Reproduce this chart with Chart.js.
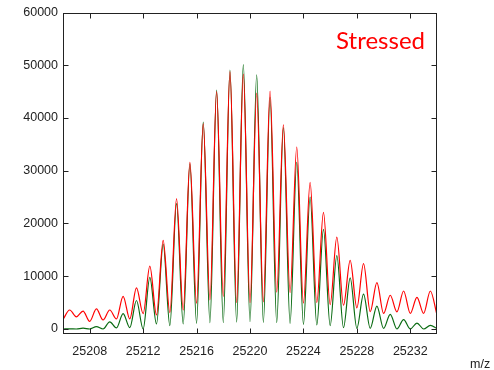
<!DOCTYPE html>
<html>
<head>
<meta charset="utf-8">
<script src="https://cdn.jsdelivr.net/npm/chart.js@4.4.1/dist/chart.umd.min.js"></script>
<style>
  html, body { margin: 0; padding: 0; background: #ffffff; }
  #wrap { width: 494px; height: 370px; position: relative; }
</style>
</head>
<body>
<div id="wrap"><canvas id="c" width="494" height="370"></canvas></div>
<script>
// m/z positions of valleys (integers) and peaks (half-integers)
const valleyMz = [25206, 25207, 25208, 25209, 25210, 25211, 25212, 25213, 25214, 25215,
                  25216, 25217, 25218, 25219, 25220, 25221, 25222, 25223, 25224, 25225,
                  25226, 25227, 25228, 25229, 25230, 25231, 25232, 25233, 25234];
const peakMz = [25206.5, 25207.5, 25208.5, 25209.5, 25210.5, 25211.5, 25212.5, 25213.5, 25214.5, 25215.5,
                25216.5, 25217.5, 25218.5, 25219.5, 25220.5, 25221.5, 25222.5, 25223.5, 25224.5, 25225.5,
                25226.5, 25227.5, 25228.5, 25229.5, 25230.5, 25231.5, 25232.5, 25233.5];

// Red trace (Stressed)
const redPeaks = [3600, 3400, 3800, 3600, 6200, 7800, 11900, 16800, 24700, 31600,
                  38900, 45000, 48800, 48300, 44700, 45100, 38700, 34500, 27800, 22100,
                  17400, 13000, 12400, 8800, 6400, 7200, 6000, 7200];
const redValleys = [1800, 2300, 1450, 1700, 1900, 1900, 2900, 2650, 3100, 3600,
                    4900, 5500, 6200, 5000, 5000, 5150, 7000, 6900, 4900, 5000,
                    4600, 4500, 4000, 3300, 2950, 3250, 2950, 2950, 2650];

// Green trace
const greenPeaks = [30, 150, 450, 1350, 2900, 5400, 9800, 16100, 23800, 31300,
                    39200, 45300, 49100, 50100, 48200, 43900, 38200, 31600, 25000, 18900,
                    13900, 9700, 6600, 4350, 2770, 1760, 1130, 690];
const greenValleys = [0, 0, 0, 0, 200, 250, 0, 950, 620, 950,
                      1080, 1200, 1200, 1320, 1380, 1260, 1200, 1070, 880, 760,
                      630, 250, 130, 130, 100, 0, 0, 0, 100];

const xTicks = [25208, 25212, 25216, 25220, 25224, 25228, 25232];
const yTicks = [0, 10000, 20000, 30000, 40000, 50000, 60000];

function buildSeries(valleys, peaks) {
  const pts = [];
  for (let i = 0; i < valleyMz.length; i++) {
    pts.push({ x: valleyMz[i], y: valleys[i] });
    if (i < peakMz.length) pts.push({ x: peakMz[i], y: peaks[i] });
  }
  return pts;
}

const frame = {
  id: 'frame',
  afterDraw(chart) {
    const { ctx, chartArea: a, scales } = chart;
    ctx.save();
    ctx.strokeStyle = '#222';
    ctx.lineWidth = 1;
    const L = Math.round(a.left) + 0.5, R = Math.round(a.right) - 0.5;
    const T = Math.round(a.top) + 0.5, B = Math.round(a.bottom) - 0.5;
    ctx.strokeRect(L, T, R - L, B - T);
    ctx.beginPath();
    const tl = 5;
    xTicks.forEach(v => {
      const px = Math.round(scales.x.getPixelForValue(v)) + 0.5;
      ctx.moveTo(px, B); ctx.lineTo(px, B - tl);
      ctx.moveTo(px, T); ctx.lineTo(px, T + tl);
    });
    yTicks.forEach(v => {
      const py = Math.round(scales.y.getPixelForValue(v)) + 0.5;
      ctx.moveTo(L, py); ctx.lineTo(L + tl, py);
      ctx.moveTo(R, py); ctx.lineTo(R - tl, py);
    });
    ctx.stroke();
    // Labels
    ctx.fillStyle = '#ff0000';
    ctx.font = '24px Lato, "Open Sans", sans-serif';
    ctx.textAlign = 'right';
    ctx.textBaseline = 'alphabetic';
    ctx.fillText('Stressed', 425, 49);
    ctx.fillStyle = '#222';
    ctx.font = '12.5px "Liberation Sans", Arial, sans-serif';
    ctx.textAlign = 'left';
    ctx.fillText('m/z', 470, 368);
    ctx.restore();
  }
};

new Chart(document.getElementById('c'), {
  type: 'line',
  data: {
    datasets: [
      {
        label: 'Stressed',
        data: buildSeries(redValleys, redPeaks),
        borderColor: '#ff0000',
        borderWidth: 1.2,
        pointRadius: 0,
        fill: false,
        cubicInterpolationMode: 'monotone'
      },
      {
        label: 'Control',
        data: buildSeries(greenValleys, greenPeaks),
        borderColor: '#0a6b12',
        borderWidth: 1.2,
        pointRadius: 0,
        fill: false,
        cubicInterpolationMode: 'monotone'
      }
    ]
  },
  options: {
    responsive: false,
    animation: false,
    devicePixelRatio: 1,
    layout: { padding: { top: 11, right: 57, left: 0, bottom: 0 } },
    plugins: { legend: { display: false }, tooltip: { enabled: false } },
    scales: {
      x: {
        type: 'linear',
        min: 25206,
        max: 25234,
        grid: { display: false, drawTicks: false },
        border: { display: false },
        afterBuildTicks: s => { s.ticks = xTicks.map(v => ({ value: v })); },
        afterFit: s => { s.height = 36; },
        ticks: {
          autoSkip: false,
          maxRotation: 0,
          padding: 10,
          color: '#222',
          font: { family: '"Liberation Sans", Arial, sans-serif', size: 12.5 },
          callback: v => String(v)
        }
      },
      y: {
        type: 'linear',
        min: -950,
        max: 60000,
        grid: { display: false, drawTicks: false },
        border: { display: false },
        afterBuildTicks: s => { s.ticks = yTicks.map(v => ({ value: v })); },
        afterFit: s => { s.width = 63; },
        ticks: {
          padding: 5,
          color: '#222',
          font: { family: '"Liberation Sans", Arial, sans-serif', size: 12.5 },
          callback: v => String(v)
        }
      }
    }
  },
  plugins: [frame]
});
</script>
</body>
</html>
